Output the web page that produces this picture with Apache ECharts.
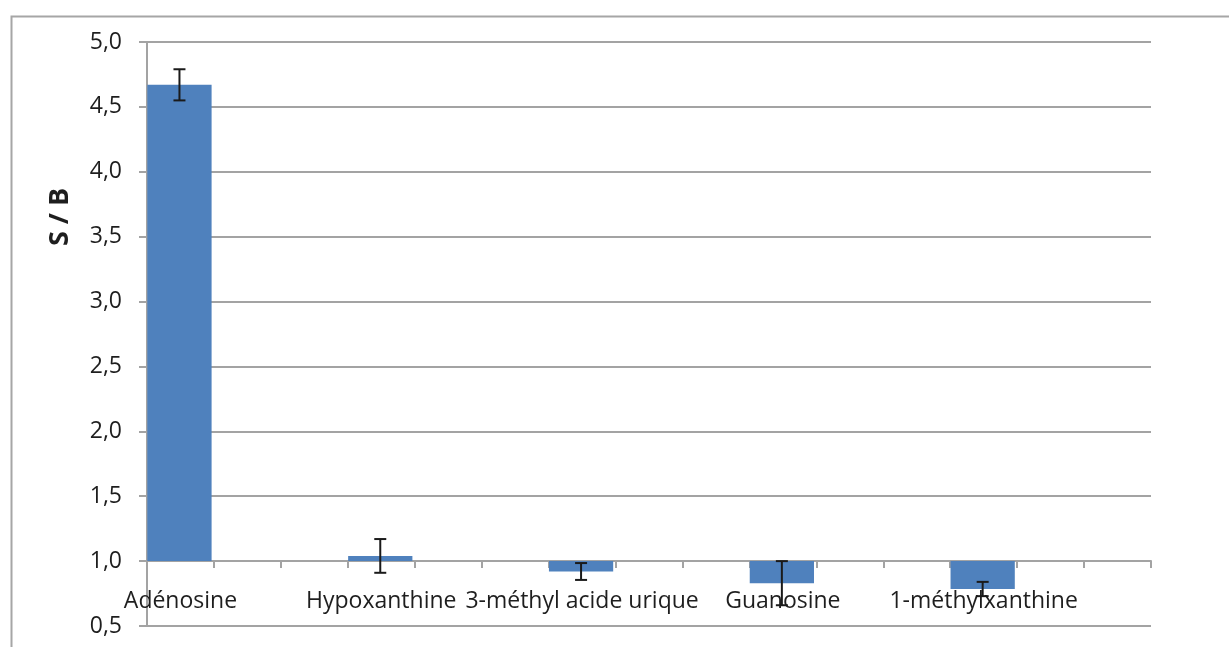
<!DOCTYPE html>
<html>
<head>
<meta charset="utf-8">
<script src="https://cdn.jsdelivr.net/npm/echarts@6/dist/echarts.min.js"></script>
<style>
html,body{margin:0;padding:0;background:#fff;}
#chart{width:1229px;height:647px;}
</style>
</head>
<body>
<div id="chart"></div>
<script>
// Categories (blank slots between named compounds)
const categories = ['Adénosine','','','Hypoxanthine','','','3-méthyl acide urique','','','Guanosine','','','1-méthylxanthine','',''];
// S/B values per slot (null = empty slot)
const values = [4.67,null,null,1.04,null,null,0.92,null,null,0.83,null,null,0.785,null,null];
// Error (± half-length of error bar)
const errors = [0.12,null,null,0.13,null,null,0.065,null,null,0.17,null,null,0.055,null,null];
// Y axis
const yMin = 0.5, yMax = 5.0, yStep = 0.5;
const baseline = 1.0;
const yTitle = 'S / B';

const chart = echarts.init(document.getElementById('chart'));
const FONT = '"Open Sans", "DejaVu Sans", sans-serif';
const GRID_COLOR = '#a3a3a3';

const seriesData = values.map((v, i) => [i, v, errors[i]]).filter(d => d[1] !== null);

chart.setOption({
  backgroundColor: '#ffffff',
  animation: false,
  grid: { left: 147, right: 78, top: 42, bottom: 21 },
  xAxis: {
    type: 'category',
    data: categories,
    boundaryGap: true,
    offset: -65,
    axisLine: { show: true, lineStyle: { color: GRID_COLOR, width: 2 } },
    axisTick: { show: true, interval: 0, length: 7, lineStyle: { color: GRID_COLOR, width: 2 } },
    axisLabel: { interval: 0, margin: 29, color: '#1e1e1e', fontSize: 23, fontFamily: FONT },
    splitLine: { show: false }
  },
  yAxis: {
    type: 'value',
    min: yMin, max: yMax, interval: yStep,
    axisLine: { show: true, lineStyle: { color: GRID_COLOR, width: 2 } },
    axisTick: { show: true, length: 8, lineStyle: { color: GRID_COLOR, width: 2 } },
    axisLabel: {
      margin: 25, color: '#1e1e1e', fontSize: 23, fontFamily: FONT,
      formatter: v => v.toFixed(1).replace('.', ',')
    },
    splitLine: { show: true, lineStyle: { color: GRID_COLOR, width: 2 } }
  },
  graphic: [
    { type: 'rect', left: 9, top: 14, z: -10, silent: true,
      shape: { width: 1230, height: 700 },
      style: { fill: 'none', stroke: '#a6a6a6', lineWidth: 2 } },
    { type: 'text', x: 60, y: 217, rotation: Math.PI / 2, z: 10,
      style: { text: yTitle, fontSize: 27, fontWeight: 'bold', fontFamily: FONT, fill: '#1e1e1e',
               textAlign: 'center', textVerticalAlign: 'middle' } }
  ],
  series: [{
    type: 'custom',
    z: 10,
    data: seriesData,
    encode: { x: 0, y: 1 },
    renderItem: function (params, api) {
      const idx = api.value(0), v = api.value(1), e = api.value(2);
      const band = api.size([1, 0])[0];
      const w = band * 0.96;
      const top = api.coord([idx, v]);
      const base = api.coord([idx, baseline]);
      const cx = top[0] - 1;
      const y1 = Math.min(top[1], base[1]), y2 = Math.max(top[1], base[1]);
      const eHi = api.coord([idx, v + e])[1];
      const eLo = api.coord([idx, v - e])[1];
      const cap = 6;
      const errStyle = { stroke: '#1a1a1a', lineWidth: 2 };
      return {
        type: 'group',
        children: [
          { type: 'rect', shape: { x: cx - w / 2, y: y1, width: w, height: Math.max(y2 - y1, 1) },
            style: { fill: '#4f81bd' } },
          { type: 'line', shape: { x1: cx, y1: eHi, x2: cx, y2: eLo }, style: errStyle },
          { type: 'line', shape: { x1: cx - cap, y1: eHi, x2: cx + cap, y2: eHi }, style: errStyle },
          { type: 'line', shape: { x1: cx - cap, y1: eLo, x2: cx + cap, y2: eLo }, style: errStyle }
        ]
      };
    }
  }]
});
</script>
</body>
</html>
